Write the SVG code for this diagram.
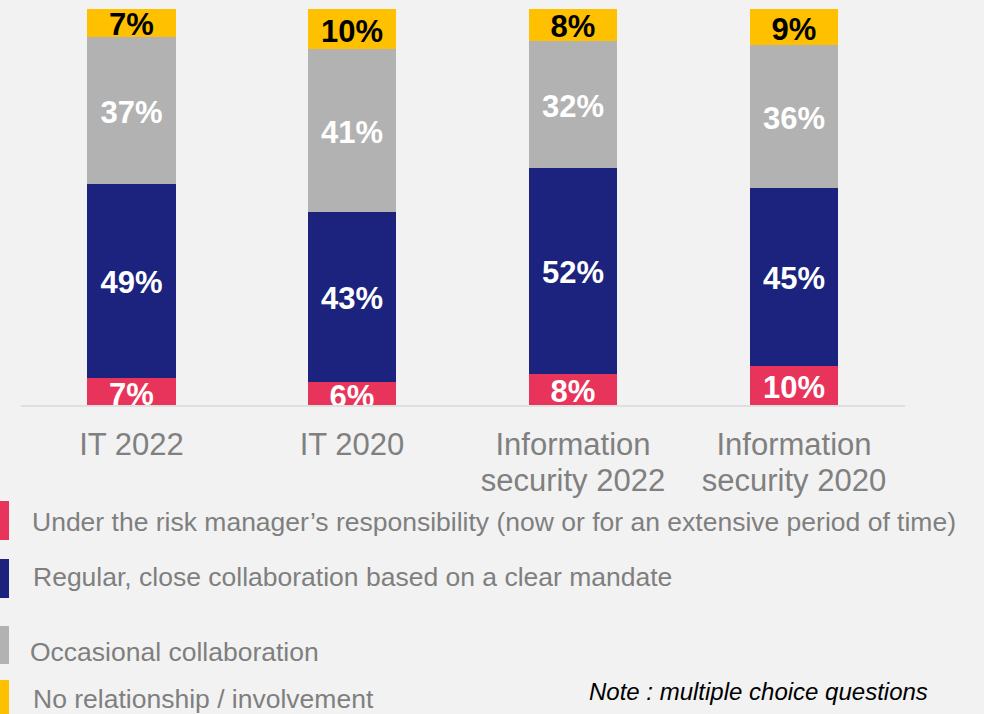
<svg xmlns="http://www.w3.org/2000/svg" width="984" height="714" viewBox="0 0 984 714">
<defs>
<style>
.y{fill:#ffc000}.g{fill:#b2b2b2}.n{fill:#1b237e}.r{fill:#e8345b}
.lb{font-family:"Liberation Sans",Arial,sans-serif;font-weight:bold;font-size:31px;text-anchor:middle}
.dk{fill:#000}.wh{fill:#fff}
.cat{font-family:"Liberation Sans",Arial,sans-serif;font-size:31px;fill:#808080;text-anchor:middle}
.leg{font-family:"Liberation Sans",Arial,sans-serif;font-size:26.5px;fill:#7f7f7f}
.note{font-family:"Liberation Sans",Arial,sans-serif;font-size:24px;font-style:italic;fill:#000}
</style>
<clipPath id="plot"><rect x="0" y="0" width="984" height="405"/></clipPath>
</defs>
<rect width="984" height="714" fill="#f2f2f2"/>
<g id="axis"><line x1="21" y1="406" x2="905" y2="406" stroke="#d9d9d9" stroke-width="1.5"/></g>
<g id="bar-it2022">
<rect class="y" x="87" y="9" width="89" height="28"/>
<rect class="g" x="87" y="37" width="89" height="147"/>
<rect class="n" x="87" y="184" width="89" height="194"/>
<rect class="r" x="87" y="378" width="89" height="27"/>
<text class="lb dk" x="131.5" y="35">7%</text>
<text class="lb wh" x="131.5" y="123">37%</text>
<text class="lb wh" x="131.5" y="293">49%</text>
<text class="lb wh" x="131.5" y="405" clip-path="url(#plot)">7%</text>
<text class="cat" x="131.5" y="455">IT 2022</text>
</g>
<g id="bar-it2020">
<rect class="y" x="308" y="9" width="88" height="40"/>
<rect class="g" x="308" y="49" width="88" height="163"/>
<rect class="n" x="308" y="212" width="88" height="170"/>
<rect class="r" x="308" y="382" width="88" height="23"/>
<text class="lb dk" x="352" y="42">10%</text>
<text class="lb wh" x="352" y="143">41%</text>
<text class="lb wh" x="352" y="309">43%</text>
<text class="lb wh" x="352" y="407" clip-path="url(#plot)">6%</text>
<text class="cat" x="352" y="455">IT 2020</text>
</g>
<g id="bar-is2022">
<rect class="y" x="529" y="9" width="88" height="32"/>
<rect class="g" x="529" y="41" width="88" height="127"/>
<rect class="n" x="529" y="168" width="88" height="206"/>
<rect class="r" x="529" y="374" width="88" height="31"/>
<text class="lb dk" x="573" y="37">8%</text>
<text class="lb wh" x="573" y="117">32%</text>
<text class="lb wh" x="573" y="283">52%</text>
<text class="lb wh" x="573" y="402">8%</text>
<text class="cat" x="573" y="455">Information</text>
<text class="cat" x="573" y="491">security 2022</text>
</g>
<g id="bar-is2020">
<rect class="y" x="750" y="9" width="88" height="36"/>
<rect class="g" x="750" y="45" width="88" height="143"/>
<rect class="n" x="750" y="188" width="88" height="178"/>
<rect class="r" x="750" y="366" width="88" height="39"/>
<text class="lb dk" x="794" y="40">9%</text>
<text class="lb wh" x="794" y="129">36%</text>
<text class="lb wh" x="794" y="289">45%</text>
<text class="lb wh" x="794" y="398">10%</text>
<text class="cat" x="794" y="455">Information</text>
<text class="cat" x="794" y="491">security 2020</text>
</g>
<g id="legend">
<rect class="r" x="0" y="501" width="9" height="39"/>
<text class="leg" x="32" y="531">Under the risk manager’s responsibility (now or for an extensive period of time)</text>
<rect class="n" x="0" y="559" width="9" height="39"/>
<text class="leg" x="33" y="586">Regular, close collaboration based on a clear mandate</text>
<rect class="g" x="0" y="626" width="9" height="38"/>
<text class="leg" x="30" y="661">Occasional collaboration</text>
<rect class="y" x="0" y="680" width="9" height="34"/>
<text class="leg" x="33" y="708">No relationship / involvement</text>
</g>
<g id="note"><text class="note" x="589" y="700">Note : multiple choice questions</text></g>
</svg>
